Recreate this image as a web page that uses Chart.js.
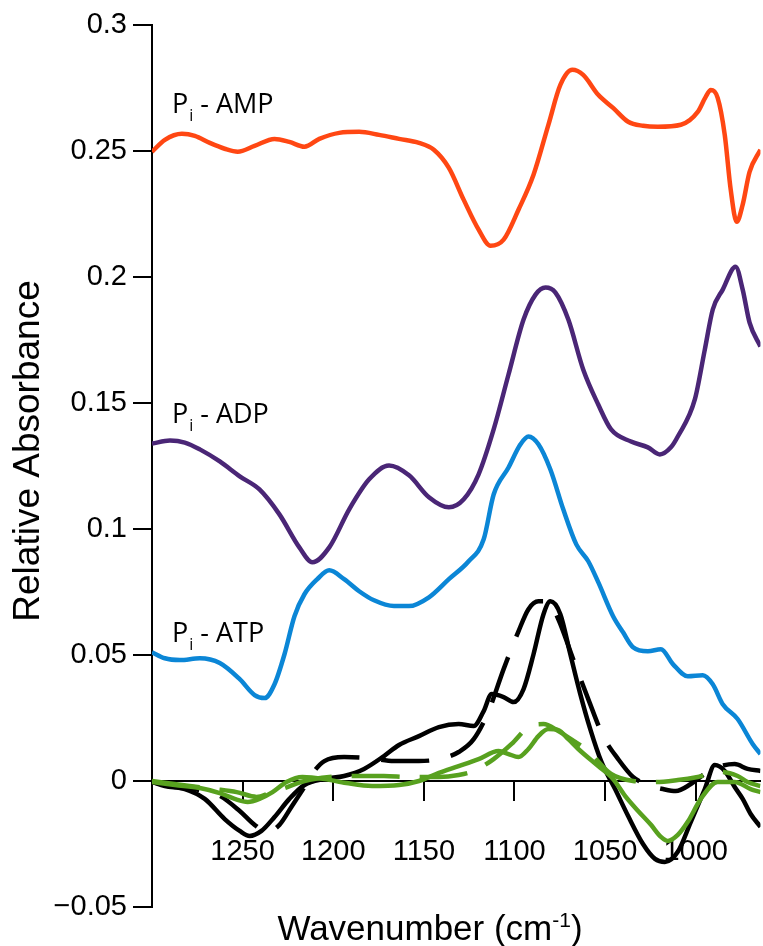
<!DOCTYPE html>
<html>
<head>
<meta charset="utf-8">
<script src="https://cdn.jsdelivr.net/npm/chart.js@4.4.1/dist/chart.umd.min.js"></script>
<style>
  html, body { margin: 0; padding: 0; background: #fff; }
</style>
</head>
<body>
<canvas id="chart" width="763" height="946"></canvas>
<script>
// wavenumber (cm-1), relative absorbance
const ampPoints = [[1300,0.2497],[1292.9,0.2544],[1283.5,0.2568],[1276.4,0.2560],[1268.1,0.2532],[1259.9,0.2509],[1252.7,0.2497],[1243.4,0.2520],[1232.4,0.2548],[1224.2,0.2536],[1215.9,0.2517],[1207.7,0.2548],[1196.7,0.2572],[1185.7,0.2576],[1174.7,0.2564],[1163.7,0.2548],[1152.7,0.2532],[1144.5,0.2505],[1136.2,0.2433],[1128.0,0.2306],[1119.8,0.2188],[1113.2,0.2124],[1106.0,0.2148],[1097.8,0.2267],[1089.5,0.2406],[1081.3,0.2604],[1074.7,0.2762],[1068.1,0.2822],[1062.1,0.2802],[1053.8,0.2723],[1045.6,0.2671],[1037.3,0.2616],[1029.1,0.2600],[1020.9,0.2596],[1008.2,0.2604],[998.9,0.2655],[994.5,0.2715],[991.7,0.2742],[987.9,0.2711],[984.0,0.2564],[980.7,0.2346],[977.4,0.2219],[974.1,0.2287],[970.3,0.2417],[964.3,0.2505]];

const adpPoints = [[1300,0.1339],[1290.1,0.1351],[1281.9,0.1343],[1273.6,0.1316],[1262.6,0.1268],[1251.6,0.1209],[1240.7,0.1157],[1229.7,0.1058],[1218.7,0.0927],[1211.5,0.0868],[1202.2,0.0927],[1191.2,0.1078],[1180.2,0.1197],[1169.2,0.1252],[1158.2,0.1213],[1147.2,0.1126],[1136.2,0.1086],[1128.0,0.1118],[1119.8,0.1217],[1111.5,0.1395],[1103.3,0.1613],[1095.0,0.1831],[1088.4,0.1930],[1082.9,0.1958],[1077.4,0.1938],[1070.3,0.1831],[1062.1,0.1633],[1053.8,0.1494],[1046.7,0.1395],[1035.7,0.1347],[1026.4,0.1324],[1019.8,0.1296],[1013.7,0.1324],[1009.9,0.1367],[1000.5,0.1514],[995.0,0.1712],[990.6,0.1871],[985.1,0.1950],[978.0,0.2041],[974.1,0.1950],[970.3,0.1819],[964.3,0.1724]];

const atpPoints = [[1300,0.0511],[1292.9,0.0487],[1284.6,0.0480],[1273.6,0.0487],[1262.6,0.0468],[1251.6,0.0404],[1243.4,0.0341],[1237.9,0.0329],[1232.4,0.0384],[1226.9,0.0503],[1221.4,0.0654],[1215.9,0.0741],[1208.8,0.0801],[1202.2,0.0836],[1194.0,0.0801],[1185.7,0.0753],[1177.5,0.0717],[1166.5,0.0694],[1158.2,0.0694],[1147.2,0.0729],[1136.2,0.0801],[1125.3,0.0872],[1117.0,0.0959],[1111.5,0.1137],[1103.3,0.1244],[1096.7,0.1336],[1092.3,0.1367],[1086.8,0.1336],[1080.2,0.1236],[1073.1,0.1078],[1065.9,0.0939],[1059.3,0.0872],[1053.8,0.0789],[1045.6,0.0654],[1040.1,0.0590],[1034.6,0.0531],[1026.4,0.0515],[1019.2,0.0523],[1012.6,0.0464],[1004.4,0.0416],[996.1,0.0420],[990.6,0.0384],[985.1,0.0305],[976.9,0.0246],[968.6,0.0147],[964.3,0.0107]];

const blackSolid = [[1300,-0.0004],[1292.9,-0.0020],[1281.9,-0.0032],[1270.9,-0.0071],[1259.9,-0.0151],[1251.6,-0.0198],[1246.1,-0.0218],[1239.6,-0.0198],[1232.4,-0.0143],[1224.2,-0.0071],[1215.9,-0.0016],[1204.9,0.0008],[1194.0,0.0020],[1183.0,0.0048],[1172.0,0.0099],[1163.7,0.0143],[1152.7,0.0178],[1141.7,0.0214],[1130.8,0.0226],[1122.5,0.0218],[1117.0,0.0277],[1112.6,0.0345],[1106.0,0.0333],[1100.5,0.0313],[1095.0,0.0365],[1089.5,0.0503],[1084.0,0.0662],[1080.2,0.0713],[1074.7,0.0662],[1069.2,0.0503],[1063.7,0.0345],[1058.2,0.0206],[1052.2,0.0079],[1044.5,-0.0032],[1037.3,-0.0139],[1029.1,-0.0250],[1022.5,-0.0309],[1017.0,-0.0321],[1009.9,-0.0281],[1002.7,-0.0162],[995.0,-0.0032],[989.5,0.0063],[984.0,0.0040],[978.5,-0.0024],[974.1,-0.0071],[969.7,-0.0131],[964.3,-0.0182]];

const blackDashed = [[1300,-0.0004],[1287.4,-0.0024],[1273.6,-0.0036],[1262.6,-0.0059],[1251.6,-0.0119],[1243.4,-0.0174],[1236.3,-0.0202],[1229.7,-0.0174],[1223.1,-0.0103],[1215.9,-0.0024],[1210.4,0.0040],[1204.9,0.0079],[1194.0,0.0095],[1180.2,0.0091],[1166.5,0.0079],[1152.7,0.0079],[1139.0,0.0091],[1130.8,0.0115],[1122.5,0.0166],[1114.3,0.0277],[1106.0,0.0444],[1097.8,0.0594],[1092.3,0.0682],[1086.8,0.0713],[1081.3,0.0713],[1075.8,0.0642],[1067.6,0.0483],[1059.3,0.0325],[1051.1,0.0178],[1042.8,0.0087],[1034.6,0.0016],[1026.4,-0.0016],[1018.1,-0.0032],[1011.0,-0.0040],[1002.7,-0.0012],[995.0,0.0028],[987.9,0.0055],[978.5,0.0067],[971.4,0.0048],[964.3,0.0040]];

const greenSolid = [[1300,-0.0004],[1287.4,-0.0016],[1273.6,-0.0028],[1262.6,-0.0048],[1254.4,-0.0071],[1247.2,-0.0083],[1240.7,-0.0071],[1233.5,-0.0044],[1225.8,-0.0004],[1217.0,0.0016],[1204.9,0.0008],[1192.8,-0.0008],[1178.6,-0.0020],[1163.7,-0.0016],[1152.7,0.0000],[1141.7,0.0032],[1130.8,0.0059],[1119.8,0.0087],[1108.8,0.0119],[1103.3,0.0107],[1097.8,0.0095],[1092.3,0.0127],[1086.8,0.0178],[1081.3,0.0206],[1075.8,0.0202],[1070.3,0.0166],[1064.8,0.0127],[1053.8,0.0059],[1045.6,0.0008],[1039.0,-0.0059],[1031.8,-0.0119],[1024.7,-0.0174],[1019.2,-0.0222],[1015.4,-0.0238],[1009.9,-0.0214],[1004.4,-0.0162],[997.2,-0.0071],[987.9,-0.0004],[978.5,-0.0004],[969.7,-0.0032],[964.3,-0.0044]];

const greenDashed = [[1300,0.0000],[1279.1,-0.0020],[1265.4,-0.0032],[1253.3,-0.0044],[1242.3,-0.0063],[1235.2,-0.0048],[1226.9,-0.0028],[1215.9,0.0000],[1202.2,0.0016],[1185.7,0.0020],[1172.0,0.0020],[1158.2,0.0016],[1141.7,0.0016],[1130.8,0.0024],[1122.5,0.0040],[1111.5,0.0087],[1101.6,0.0147],[1092.3,0.0214],[1084.0,0.0226],[1075.8,0.0198],[1066.5,0.0155],[1059.3,0.0119],[1046.7,0.0028],[1034.6,0.0000],[1022.5,-0.0004],[1009.9,0.0004],[998.9,0.0016],[986.2,0.0036],[976.9,0.0020],[971.4,-0.0004],[964.3,-0.0020]];

const xTicks = [1250, 1200, 1150, 1100, 1050, 1000];
const yTicks = [-0.05, 0, 0.05, 0.1, 0.15, 0.2, 0.25, 0.3];
const yTickLabels = ["\u22120.05", "0", "0.05", "0.1", "0.15", "0.2", "0.25", "0.3"];
const curveNames = ["AMP", "ADP", "ATP"];
const curveNameAt = [[1289, 0.265], [1289, 0.142], [1289, 0.0552]];

const tickFont = { family: "'Liberation Sans', Arial, sans-serif", size: 29 };

function toXY(points) {
  return points.map(p => ({ x: p[0], y: p[1] }));
}

function line(points, color, dash) {
  return {
    data: toXY(points),
    borderColor: color,
    borderWidth: 4.5,
    borderDash: dash || [],
    pointRadius: 0,
    cubicInterpolationMode: "monotone",
    fill: false
  };
}

const textPlugin = {
  id: "textPlugin",
  afterDraw(chart) {
    const ctx = chart.ctx;
    const xs = chart.scales.x, ys = chart.scales.y;
    ctx.save();
    ctx.fillStyle = "#000";
    ctx.textAlign = "left";
    ctx.textBaseline = "alphabetic";

    // P_i - XXX labels next to the curves
    for (let i = 0; i < curveNames.length; i++) {
      let px = xs.getPixelForValue(curveNameAt[i][0]);
      let py = ys.getPixelForValue(curveNameAt[i][1]);
      ctx.font = "27px 'Open Sans'";
      ctx.fillText("P", px, py);
      px += ctx.measureText("P").width + 1;
      ctx.font = "16px 'Open Sans'";
      ctx.fillText("i", px, py + 8);
      px += ctx.measureText("i").width;
      ctx.font = "27px 'Open Sans'";
      ctx.fillText(" - " + curveNames[i], px, py);
    }

    // x title with superscript
    const big = "35px 'Liberation Sans'", small = "21px 'Liberation Sans'";
    ctx.font = big;
    const w1 = ctx.measureText("Wavenumber (cm").width;
    const w3 = ctx.measureText(")").width;
    ctx.font = small;
    const w2 = ctx.measureText("-1").width;
    let x0 = 430 - (w1 + w2 + w3) / 2;
    const base = 940;
    ctx.font = big;
    ctx.fillText("Wavenumber (cm", x0, base);
    ctx.font = small;
    ctx.fillText("-1", x0 + w1, base - 13);
    ctx.font = big;
    ctx.fillText(")", x0 + w1 + w2, base);

    // y title
    ctx.translate(29, 451);
    ctx.rotate(-Math.PI / 2);
    ctx.font = "37px 'Liberation Sans'";
    ctx.textAlign = "center";
    ctx.textBaseline = "middle";
    ctx.fillText("Relative Absorbance", 0, 0);
    ctx.restore();
  }
};

const ctx = document.getElementById("chart").getContext("2d");
const chart = new Chart(ctx, {
  type: "line",
  data: {
    datasets: [
      line(greenSolid, "#58a11f"),
      line(greenDashed, "#58a11f", [48, 20]),
      line(blackSolid, "#000000"),
      line(blackDashed, "#000000", [48, 22]),
      line(atpPoints, "#0b86d6"),
      line(adpPoints, "#4a2676"),
      line(ampPoints, "#ff4713")
    ]
  },
  options: {
    responsive: false,
    animation: false,
    layout: { padding: { left: 0, right: 0, top: 25, bottom: 39 } },
    plugins: {
      legend: { display: false },
      tooltip: { enabled: false }
    },
    scales: {
      x: {
        type: "linear",
        reverse: true,
        min: 964.3,
        max: 1300,
        position: { y: 0 },
        afterBuildTicks: s => { s.ticks = xTicks.map(v => ({ value: v })); },
        ticks: {
          font: tickFont,
          color: "#000",
          padding: 35,
          maxRotation: 0,
          autoSkip: false,
          callback: (v, i) => String(xTicks[i])
        },
        grid: { drawOnChartArea: false, drawTicks: true, tickLength: 19, color: "#000", lineWidth: 2 },
        border: { display: true, color: "#000", width: 2 }
      },
      y: {
        min: -0.05,
        max: 0.3,
        afterBuildTicks: s => { s.ticks = yTicks.map(v => ({ value: v })); },
        afterFit: s => { s.width = 152; },
        ticks: {
          font: tickFont,
          color: "#000",
          padding: 6,
          autoSkip: false,
          callback: (v, i) => yTickLabels[i]
        },
        grid: { drawOnChartArea: false, drawTicks: true, tickLength: 19, color: "#000", lineWidth: 2 },
        border: { display: true, color: "#000", width: 2 }
      }
    }
  },
  plugins: [textPlugin]
});
</script>
</body>
</html>
